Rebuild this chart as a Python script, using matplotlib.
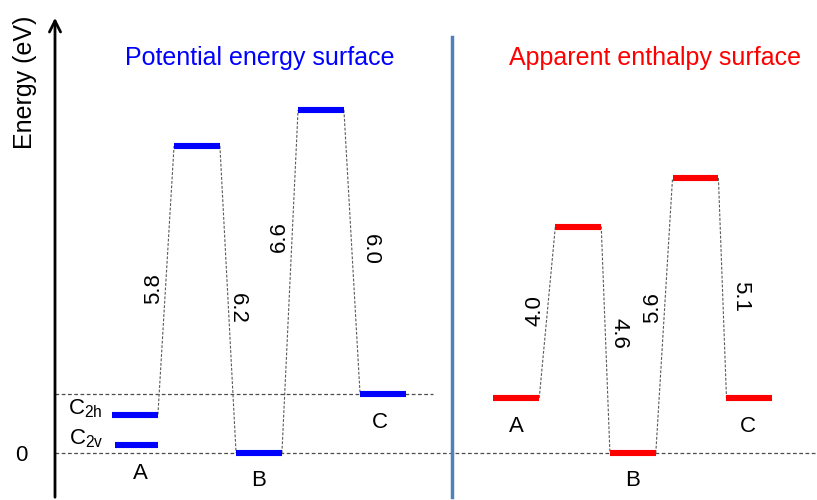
import matplotlib.pyplot as plt
import numpy as np

plt.rcParams['font.family'] = ['Liberation Sans', 'DejaVu Sans']
plt.rcParams['mathtext.fontset'] = 'custom'
plt.rcParams['mathtext.rm'] = 'Liberation Sans'
plt.rcParams['mathtext.it'] = 'Liberation Sans'

# energies in eV (A uses the C2h level for the path, C2v drawn below it)
pes_states = ['A', 'TS1', 'B', 'TS2', 'C']
pes_energy = [0.77, 6.14, 0.0, 6.86, 1.18]
pes_c2v = 0.16
pes_barriers = ['5.8', '6.2', '6.6', '6.0']

aes_states = ['A', 'TS1', 'B', 'TS2', 'C']
aes_energy = [1.10, 4.53, 0.0, 5.50, 1.10]
aes_barriers = ['4.0', '4.6', '5.6', '5.1']

fig = plt.figure(figsize=(8.17, 5.0), dpi=100)
ax = fig.add_axes([55/817, 0, 762/817, 1])
ax.set_xlim(-1.29, 11.0)
ax.set_ylim(-0.94, 9.06)
for s in ax.spines.values():
    s.set_visible(False)
ax.set_xticks([])
ax.set_yticks([0])
ax.set_yticklabels(['0'], fontsize=16)
ax.tick_params(axis='y', length=0, pad=20)

# energy axis arrow
ax.annotate('', xy=(0, 0.97), xytext=(0, 0), xycoords='axes fraction',
            arrowprops=dict(arrowstyle='->', lw=2, color='k', mutation_scale=20))
fig.text(25/817, 1-82/500, 'Energy (eV)', rotation=90, fontsize=18,
         ha='center', va='center')

hw = 0.37  # half width of a level bar
lev = dict(lw=4.4, solid_capstyle='butt', zorder=3)
conn = dict(color='0.35', lw=0.8, ls=(0, (2.5, 1.5)), zorder=2)

# reference lines
ax.axhline(0, color='0.3', lw=0.9, ls=(0, (3, 2)), zorder=1)

def draw_path(xs, energy, barriers, color, fracs, offs):
    for x, e in zip(xs, energy):
        ax.plot([x-hw, x+hw], [e, e], color=color, **lev)
    for i, lab in enumerate(barriers):
        x0, x1 = xs[i]+hw, xs[i+1]-hw
        e0, e1 = energy[i], energy[i+1]
        ax.plot([x0, x1], [e0, e1], **conn)
        t = fracs[i]
        lo, hi = (e0, e1) if e1 > e0 else (e1, e0)
        ym = lo + t*(hi-lo)
        xm = x0 + (ym-e0)/(e1-e0)*(x1-x0)
        up = e1 > e0
        ax.annotate(lab, (xm, ym), xytext=(offs[i], 0),
                    textcoords='offset points', rotation=90 if up else -90,
                    ha='center', va='center', fontsize=16)

# left panel: potential energy surface
px = np.arange(5, dtype=float)
draw_path(px, pes_energy, pes_barriers, 'blue', [0.47, 0.47, 0.63, 0.51],
          [-8.5, 6.5, -9, 13])
ax.plot([px[0]-hw+0.05, px[0]+hw], [pes_c2v, pes_c2v], color='blue', **lev)
ax.hlines(pes_energy[4], -1.29, px[4]+0.8, color='0.3', lw=0.9,
          ls=(0, (3, 2)), zorder=1)
ax.text(px[0]-0.52, pes_energy[0]+0.12, r'C$_{\mathrm{2h}}$', fontsize=16,
        ha='right', va='center')
ax.text(px[0]-0.50, pes_c2v+0.12, r'C$_{\mathrm{2v}}$', fontsize=16,
        ha='right', va='center')
ax.text(px[0]+0.08, pes_c2v-0.57, 'A', fontsize=16, ha='center', va='center')
ax.text(px[2], pes_energy[2]-0.54, 'B', fontsize=16, ha='center', va='center')
ax.text(px[4]-0.05, pes_energy[4]-0.58, 'C', fontsize=16, ha='center', va='center')
ax.text(2.02, 7.9, 'Potential energy surface', color='blue', fontsize=18,
        ha='center', va='center')

# separator
ax.plot([5.11, 5.11], [-0.88, 8.32], color='#4f81bd', lw=2.5, zorder=4)

# right panel: apparent enthalpy surface
rx = np.array([6.15, 7.15, 8.03, 9.04, 9.91])
draw_path(rx, aes_energy, aes_barriers, 'red', [0.51, 0.53, 0.53, 0.46],
          [-9, 10, -9, 13])
ax.text(rx[0], aes_energy[0]-0.58, 'A', fontsize=16, ha='center', va='center')
ax.text(rx[2], aes_energy[2]-0.54, 'B', fontsize=16, ha='center', va='center')
ax.text(rx[4]-0.03, aes_energy[4]-0.58, 'C', fontsize=16, ha='center', va='center')
ax.text(8.38, 7.9, 'Apparent enthalpy surface', color='red', fontsize=18,
        ha='center', va='center')

fig.savefig('out.png', dpi=100)
